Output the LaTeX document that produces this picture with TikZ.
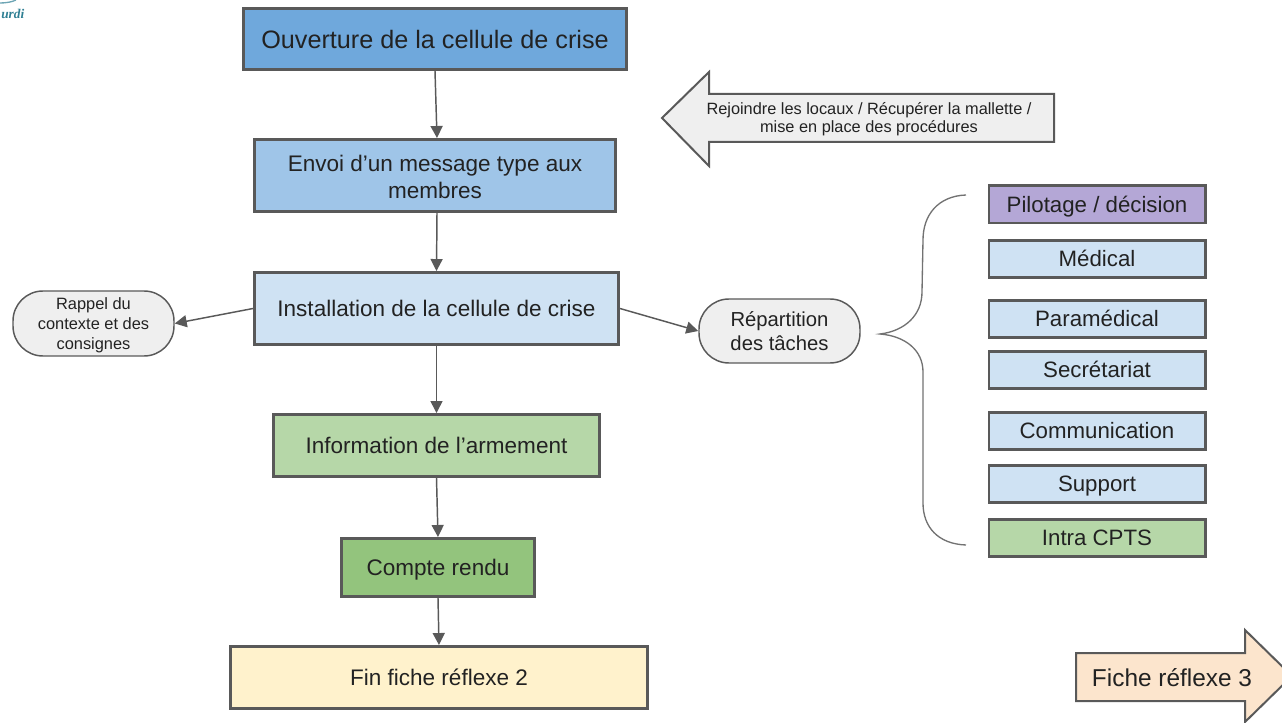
\documentclass[tikz,border=0pt]{standalone}
\usepackage{fontspec}
\setmainfont{Liberation Sans}
\newfontfamily\logofont{Liberation Serif}
\usetikzlibrary{arrows.meta}
\definecolor{edge}{HTML}{595959}
\definecolor{ink}{HTML}{222222}
\definecolor{blueA}{HTML}{6FA8DC}
\definecolor{blueB}{HTML}{9FC5E8}
\definecolor{blueC}{HTML}{CFE2F3}
\definecolor{greenA}{HTML}{B6D7A8}
\definecolor{greenB}{HTML}{93C47D}
\definecolor{yellowA}{HTML}{FFF2CC}
\definecolor{purpleA}{HTML}{B4A7D6}
\definecolor{greyA}{HTML}{EFEFEF}
\definecolor{orangeA}{HTML}{FCE5CD}
\definecolor{teal}{HTML}{2F7F93}
\tikzset{
  x=0.75pt,y=-0.75pt,
  mainbox/.style={draw=edge,line width=2.2pt,text=ink,align=center,inner sep=0pt,anchor=center,
    font=\fontsize{16.9}{20.25}\selectfont},
  sidebox/.style={draw=edge,line width=2.2pt,text=ink,align=center,inner sep=0pt,anchor=center,
    minimum width=164.25pt-2.2pt,minimum height=30pt-2.2pt,text height=12pt,text depth=0pt,font=\fontsize{16.7}{20}\selectfont},
  pill/.style={draw=edge,line width=1.1pt,fill=greyA,rounded corners=22.5pt,text=ink,align=center,inner sep=0pt},
  link/.style={draw=edge,line width=1.1pt,-{Triangle[length=9pt,width=9pt]}},
  bigarrow/.style={draw=edge,line width=1.5pt,line join=miter},
  bracket/.style={draw=edge!85,line width=1pt},
  arrowtext/.style={text=ink,align=center,inner sep=0pt}
}
\begin{document}
\begin{tikzpicture}
\useasboundingbox (0,0) rectangle (1282,723);
\clip (0,0) rectangle (1282,723);
% logo fragment
\draw[teal!70,line width=1pt] (0,3) .. controls (6,3) and (12,2) .. (16,0);
\node[text=teal,inner sep=0pt,anchor=west,font=\logofont\itshape\bfseries\fontsize{10}{12}\selectfont] (logo) at (1,14) {urdi};
% main column
\node[mainbox,fill=blueA,minimum width=287.3pt,minimum height=45.8pt,text height=14.5pt,text depth=0pt,font=\fontsize{18.9}{22}\selectfont] (ouv) at (435,39) {Ouverture de la cellule de crise};
\node[mainbox,fill=blueB,minimum width=270.8pt,minimum height=54pt] (env) at (435,175.5) {\rule{0pt}{15pt}Envoi d’un message type aux\\membres};
\node[mainbox,fill=blueC,minimum width=273pt,minimum height=54pt] (inst) at (436.5,308.5) {Installation de la cellule de crise};
\node[mainbox,fill=greenA,minimum width=244.5pt,minimum height=46.5pt] (info) at (436.5,445.5) {Information de l’armement};
\node[mainbox,fill=greenB,minimum width=144.8pt,minimum height=43.5pt,text height=12.5pt,text depth=0pt] (cr) at (438,567.5) {Compte rendu};
\node[mainbox,fill=yellowA,minimum width=312.8pt,minimum height=46.5pt] (fin) at (439,677.5) {Fin fiche réflexe 2};
% side pills
\node[pill,minimum width=120.75pt,minimum height=48.75pt,font=\fontsize{12.3}{15}\selectfont] (rappel) at (93.5,323.5) {\rule{0pt}{12pt}Rappel du\\contexte et des\\consignes};
\node[pill,minimum width=120.75pt,minimum height=48pt,font=\fontsize{15.2}{18}\selectfont] (rep) at (779.5,331) {Répartition\\des tâches};
% connectors
\draw[link] (ouv.south) -- ([xshift=1.5pt]env.north);
\draw[link] ([xshift=1.5pt]env.south) -- (inst.north);
\draw[link] (inst.south) -- (info.north);
\draw[link] (info.south) -- (cr.north);
\draw[link] (cr.south) -- (fin.north);
\draw[link] (inst.west) -- (rappel.east);
\draw[link] (inst.east) -- (rep.west);
% right column
\node[sidebox,fill=purpleA] (pil) at (1097,204.5) {Pilotage / décision};
\node[sidebox,fill=blueC] (med) at (1097,259) {Médical};
\node[sidebox,fill=blueC] (para) at (1097,319) {Paramédical};
\node[sidebox,fill=blueC] (sec) at (1097,370) {Secrétariat};
\node[sidebox,fill=blueC] (com) at (1097,431) {Communication};
\node[sidebox,fill=blueC] (sup) at (1097,484) {Support};
\node[sidebox,fill=greenA] (intra) at (1097,538) {Intra CPTS};
% brace
\draw[bracket] (966,195) .. controls (938,196) and (923,215) .. (923,240)
  -- (922,292) .. controls (922,315) and (905,331) .. (880,334)
  .. controls (905,336) and (923,350) .. (923,372)
  -- (923,503) .. controls (923,527) and (938,544) .. (966,545);
% big arrows
\draw[bigarrow,fill=greyA] (662,118) -- (709,72) -- (709,94) -- (1054,94) -- (1054,142) -- (709,142) -- (709,166) -- cycle;
\node[arrowtext,font=\fontsize{12.25}{13.5}\selectfont] (join) at (869,119) {Rejoindre les locaux / Récupérer la mallette /\\mise en place des procédures};
\draw[bigarrow,fill=orangeA] (1076,653) -- (1245,653) -- (1245,630) -- (1292,676) -- (1245,722) -- (1245,701) -- (1076,701) -- cycle;
\node[arrowtext,font=\fontsize{18.3}{22}\selectfont] (f3) at (1172,678) {Fiche réflexe 3};
\end{tikzpicture}
\end{document}
